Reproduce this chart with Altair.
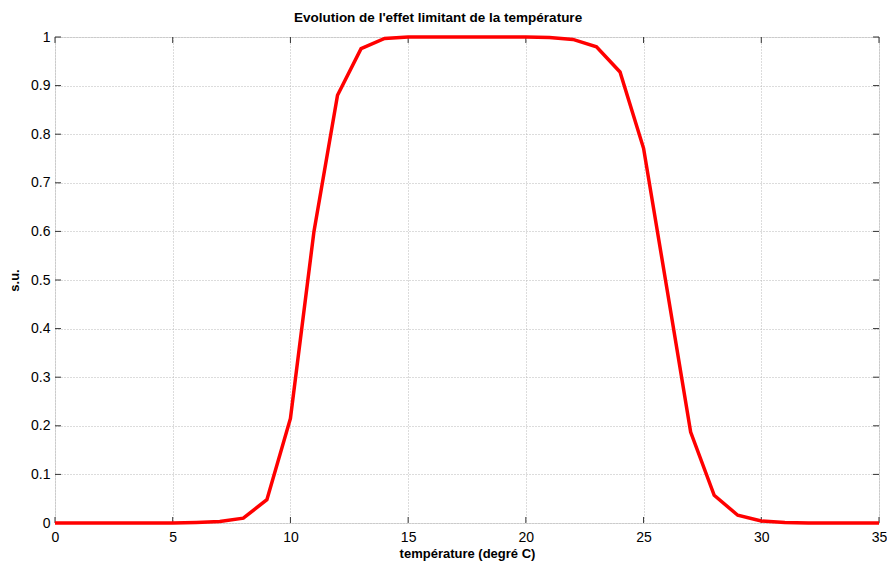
import altair as alt
import pandas as pd

temps = list(range(0, 36))
vals = [0, 0, 0, 0, 0, 0, 0.001, 0.003, 0.01, 0.048, 0.215, 0.6, 0.88, 0.976,
        0.997, 1, 1, 1, 1, 1, 1, 0.999, 0.995, 0.98, 0.928, 0.771, 0.48, 0.187,
        0.057, 0.016, 0.004, 0.001, 0, 0, 0, 0]
x_ticks = [0, 5, 10, 15, 20, 25, 30, 35]
y_ticks = [0, 0.1, 0.2, 0.3, 0.4, 0.5, 0.6, 0.7, 0.8, 0.9, 1]

W, H = 824, 486
FONT = "Liberation Sans"

df = pd.DataFrame({"t": temps, "v": vals})
xt = pd.DataFrame({"t": x_ticks})
yt = pd.DataFrame({"v": y_ticks})

xscale = alt.Scale(domain=[0, 35], nice=False, zero=False)
yscale = alt.Scale(domain=[0, 1], nice=False, zero=False)

xaxis = alt.Axis(values=x_ticks, ticks=False, domain=False, grid=True,
                 gridDash=[1, 2], gridColor="#b8b8b8", labelFontSize=14,
                 labelFont=FONT, labelColor="#000", labelPadding=7,
                 title="température (degré C)", titleFont=FONT,
                 titleFontSize=13, titleFontWeight="bold", titleColor="#000",
                 titlePadding=3, labelFlush=False)
yaxis = alt.Axis(values=y_ticks, ticks=False, domain=False, grid=True,
                 gridDash=[1, 2], gridColor="#b8b8b8", labelFontSize=14,
                 labelFont=FONT, labelColor="#000", labelPadding=5,
                 format="~g", title="s.u.", titleFont=FONT, titleFontSize=13,
                 titleFontWeight="bold", titleColor="#000", titlePadding=9,
                 labelFlush=False)

line = alt.Chart(df).mark_line(color="#ff0000", strokeWidth=3.5,
                               strokeJoin="miter").encode(
    x=alt.X("t:Q", scale=xscale, axis=xaxis),
    y=alt.Y("v:Q", scale=yscale, axis=yaxis),
)

tick_color = "#333"
xb = alt.Chart(xt).mark_rule(color=tick_color, strokeWidth=1).encode(
    x=alt.X("t:Q", scale=xscale), y=alt.value(H), y2=alt.value(H - 6))
xtp = alt.Chart(xt).mark_rule(color=tick_color, strokeWidth=1).encode(
    x=alt.X("t:Q", scale=xscale), y=alt.value(0), y2=alt.value(6))
yl = alt.Chart(yt).mark_rule(color=tick_color, strokeWidth=1).encode(
    y=alt.Y("v:Q", scale=yscale), x=alt.value(0), x2=alt.value(6))
yr = alt.Chart(yt).mark_rule(color=tick_color, strokeWidth=1).encode(
    y=alt.Y("v:Q", scale=yscale), x=alt.value(W), x2=alt.value(W - 6))

chart = alt.layer(xb, xtp, yl, yr, line).properties(
    width=W, height=H,
    title=alt.TitleParams("Evolution de l'effet limitant de la température",
                          font=FONT, fontSize=13.5, fontWeight="bold",
                          color="#000", anchor="middle", offset=6, dx=-29),
    autosize=alt.AutoSizeParams(type="none"),
    padding={"left": 55, "top": 37, "right": 8, "bottom": 43},
).configure_view(stroke="#888888", strokeWidth=1.5).configure(background="white")

chart.save("out.html", embed_options={"renderer": "svg", "actions": False})
